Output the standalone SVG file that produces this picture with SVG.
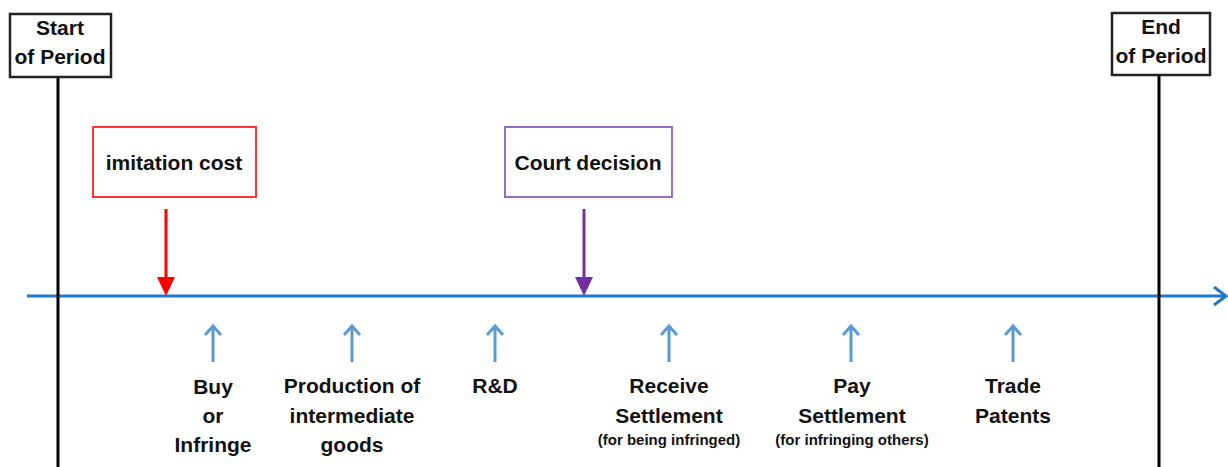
<svg xmlns="http://www.w3.org/2000/svg" width="1228" height="467" viewBox="0 0 1228 467">
  <style>
    .lbl { font-family: "Liberation Sans", Arial, sans-serif; font-weight: bold; font-size: 21px; fill: #111; text-anchor: middle; }
    .small { font-size: 15px; }
    .bound { fill: #fff; stroke: #222; stroke-width: 2.5; }
    .event { fill: #fff; stroke-width: 2; }
    .up { stroke: #5B9BD5; stroke-width: 3; fill: none; }
  </style>

  <g id="connectors">
    <!-- main time axis -->
    <line x1="27" y1="296" x2="1226" y2="296" stroke="#1F78C8" stroke-width="3"/>
    <polyline points="1214,287 1226,296 1214,305" fill="none" stroke="#1F78C8" stroke-width="3"/>
    <!-- period boundaries -->
    <line x1="58" y1="77" x2="58" y2="467" stroke="#000" stroke-width="3"/>
    <line x1="1159" y1="75" x2="1159" y2="467" stroke="#000" stroke-width="3"/>
    <!-- shocks -->
    <line x1="166" y1="209" x2="166" y2="280" stroke="#FF0000" stroke-width="3"/>
    <path d="M157,277 L175,277 L166,296 Z" fill="#FF0000"/>
    <line x1="584" y1="209" x2="584" y2="280" stroke="#7030A0" stroke-width="3"/>
    <path d="M575,277 L593,277 L584,296 Z" fill="#7030A0"/>
    <!-- stage arrows -->
    <g class="up">
      <path d="M213,362 V326 M205,335 L213,326 L221,335"/>
      <path d="M352,362 V326 M344,335 L352,326 L360,335"/>
      <path d="M495,362 V326 M487,335 L495,326 L503,335"/>
      <path d="M669,362 V326 M661,335 L669,326 L677,335"/>
      <path d="M851,362 V326 M843,335 L851,326 L859,335"/>
      <path d="M1013,362 V326 M1005,335 L1013,326 L1021,335"/>
    </g>
  </g>

  <g id="start">
    <rect class="bound" x="10" y="14" width="101" height="63"/>
    <text class="lbl" x="60" y="35">Start</text>
    <text class="lbl" x="60" y="64">of Period</text>
  </g>
  <g id="end">
    <rect class="bound" x="1112" y="13" width="98" height="62"/>
    <text class="lbl" x="1161" y="34">End</text>
    <text class="lbl" x="1161" y="63">of Period</text>
  </g>

  <g id="imitation">
    <rect class="event" x="93" y="127" width="163" height="70" stroke="#FF3333"/>
    <text class="lbl" x="174" y="170">imitation cost</text>
  </g>
  <g id="court">
    <rect class="event" x="505" y="127" width="167" height="70" stroke="#9B6BC9"/>
    <text class="lbl" x="588" y="170">Court decision</text>
  </g>

  <g id="buy">
    <text class="lbl" x="213" y="394">Buy</text>
    <text class="lbl" x="213" y="423">or</text>
    <text class="lbl" x="213" y="452">Infringe</text>
  </g>
  <g id="production">
    <text class="lbl" x="352" y="393">Production of</text>
    <text class="lbl" x="352" y="423">intermediate</text>
    <text class="lbl" x="352" y="452">goods</text>
  </g>
  <g id="rnd">
    <text class="lbl" x="495" y="393">R&amp;D</text>
  </g>
  <g id="receive">
    <text class="lbl" x="669" y="393">Receive</text>
    <text class="lbl" x="669" y="423">Settlement</text>
    <text class="lbl small" x="669" y="445">(for being infringed)</text>
  </g>
  <g id="pay">
    <text class="lbl" x="852" y="393">Pay</text>
    <text class="lbl" x="852" y="423">Settlement</text>
    <text class="lbl small" x="852" y="445">(for infringing others)</text>
  </g>
  <g id="trade">
    <text class="lbl" x="1013" y="393">Trade</text>
    <text class="lbl" x="1013" y="423">Patents</text>
  </g>
</svg>
